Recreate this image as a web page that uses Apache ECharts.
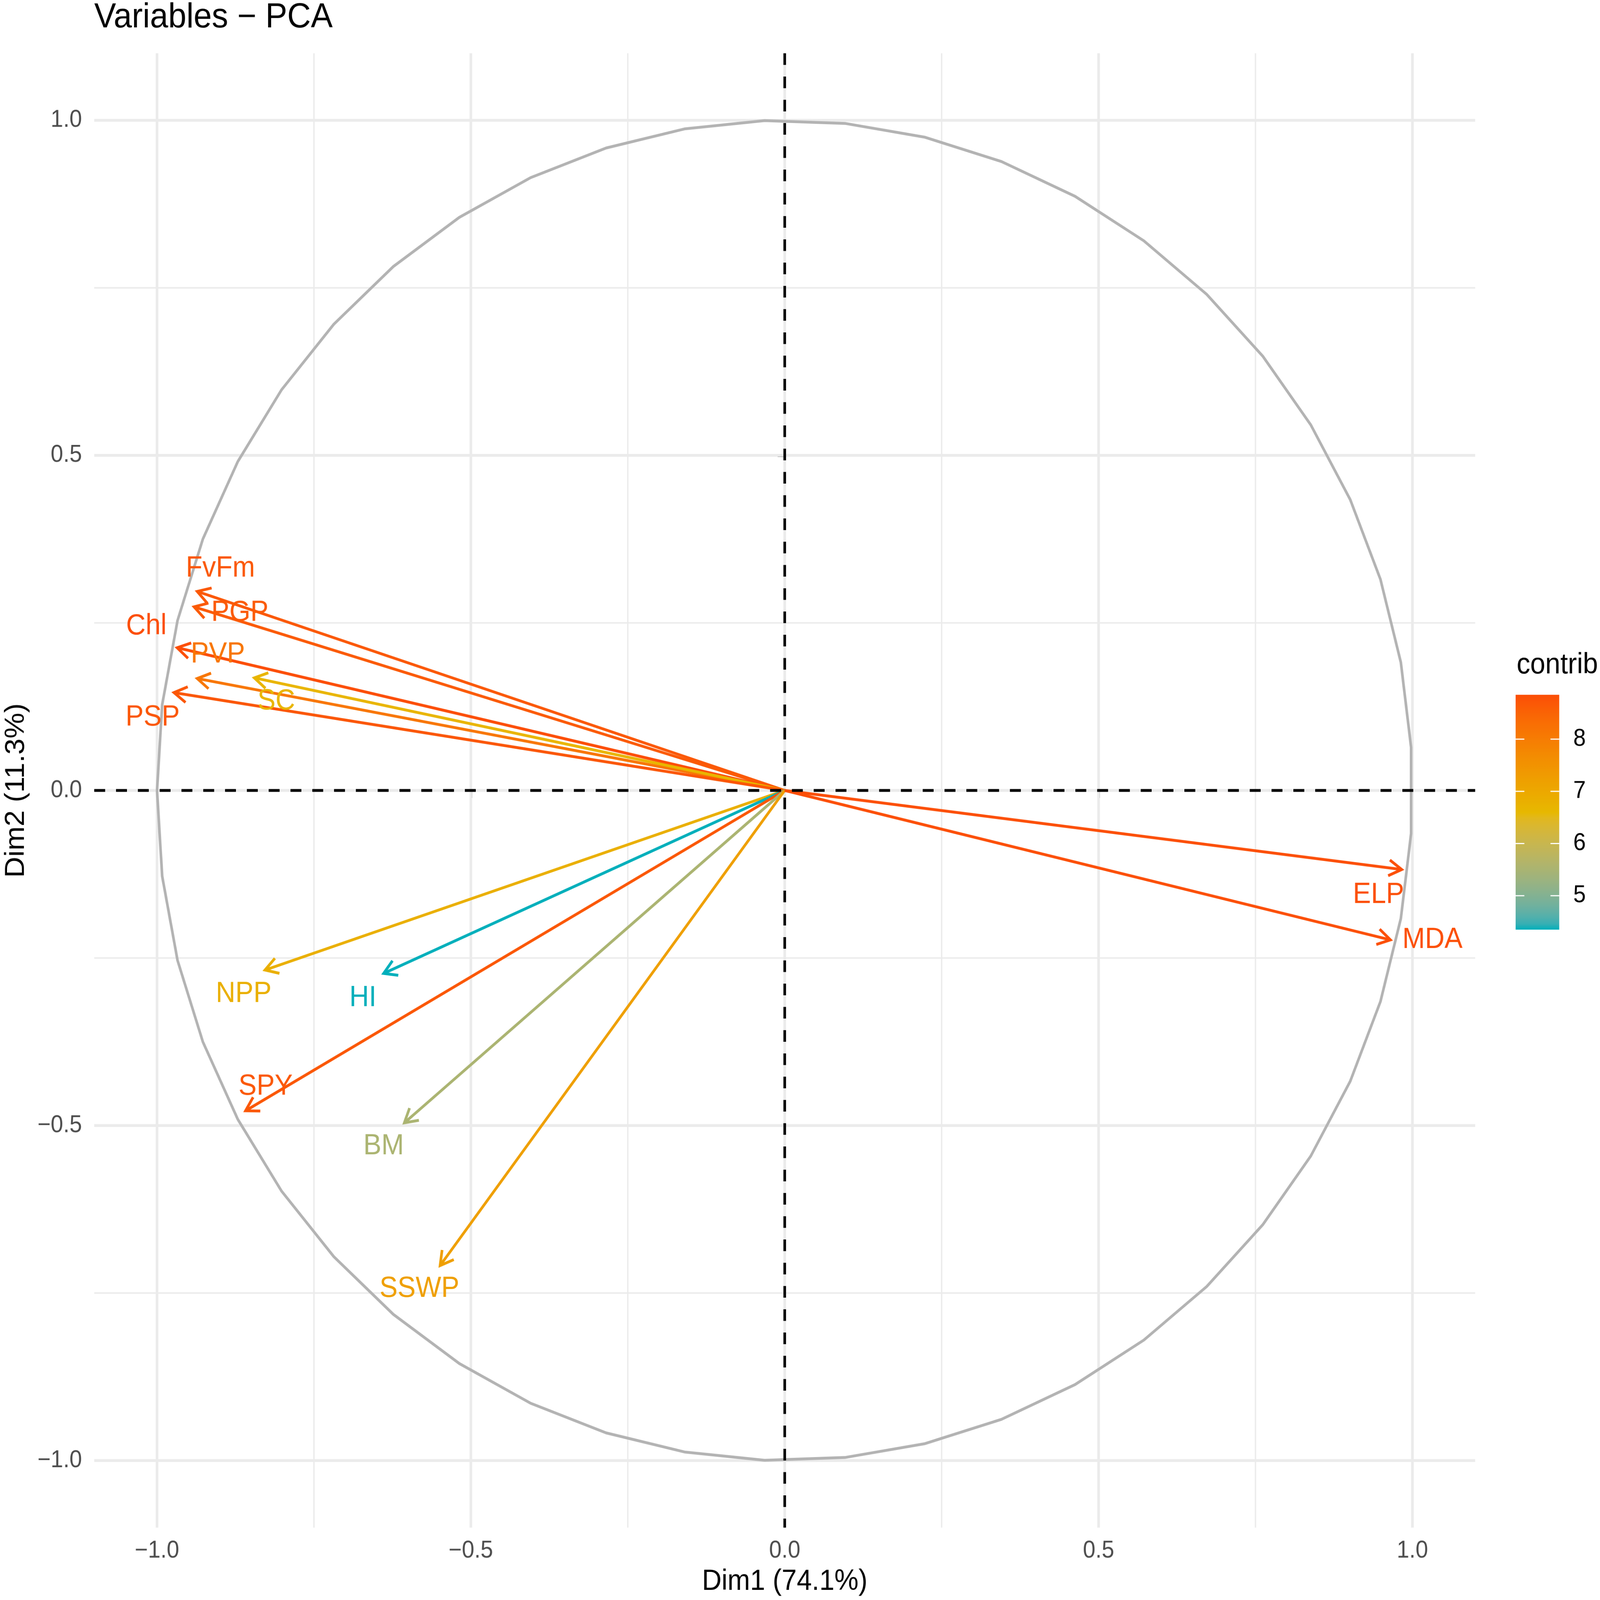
<!DOCTYPE html>
<html><head><meta charset="utf-8">
<script src="https://cdn.jsdelivr.net/npm/echarts@6/dist/echarts.min.js"></script>
<style>html,body{margin:0;padding:0;background:#fff;overflow:hidden}#c{width:4550px;height:4265px;transform-origin:0 0;position:absolute;left:0;top:0}</style>
</head><body><div id="c"></div>
<script>
// ---------- data ----------
const varNames = ['FvFm', 'PGP', 'Chl', 'PVP', 'SC', 'PSP', 'NPP', 'HI', 'SPY', 'BM', 'SSWP', 'ELP', 'MDA'];
const dim1 = [-0.936, -0.941, -0.968, -0.936, -0.845, -0.973, -0.828, -0.639, -0.859, -0.606, -0.549, 0.983, 0.965];
const dim2 = [0.297, 0.274, 0.213, 0.167, 0.168, 0.146, -0.268, -0.273, -0.478, -0.496, -0.709, -0.118, -0.223];
const contrib = [8.69, 8.65, 8.85, 8.14, 6.69, 8.72, 6.82, 4.35, 8.70, 5.52, 7.24, 8.83, 8.83];
const labelX = [-0.899, -0.868, -1.017, -0.903, -0.810, -1.007, -0.862, -0.672, -0.827, -0.639, -0.582, 0.946, 1.032];
const labelY = [0.331, 0.265, 0.245, 0.203, 0.133, 0.109, -0.304, -0.310, -0.442, -0.531, -0.744, -0.156, -0.223];
const majorBreaks = [-1, -0.5, 0, 0.5, 1];
const minorBreaks = [-0.75, -0.25, 0.25, 0.75];
const legendTicks = [5, 6, 7, 8];
const gradientColors = ['#00AFBB', '#E7B800', '#FC4E07'];
const circlePoints = 50;
const titleText = 'Variables \u2212 PCA';
const xName = 'Dim1 (74.1%)';
const yName = 'Dim2 (11.3%)';
const legendName = 'contrib';

// fit the 4550x4265 design into whatever viewport the browser has
const DESIGN_W = 4550, DESIGN_H = 4265;
const box = document.getElementById('c');
box.style.transform = 'scale(' + (window.innerWidth / DESIGN_W) + ',' + (window.innerHeight / DESIGN_H) + ')';

// ---------- colour ramp (CIELAB interpolation like ggplot) ----------
function hexToLab(hex) {
  const v = [1, 3, 5].map(i => parseInt(hex.substr(i, 2), 16) / 255)
    .map(c => c <= 0.04045 ? c / 12.92 : Math.pow((c + 0.055) / 1.055, 2.4));
  const X = (0.4124564 * v[0] + 0.3575761 * v[1] + 0.1804375 * v[2]) / 0.95047;
  const Y = (0.2126729 * v[0] + 0.7151522 * v[1] + 0.0721750 * v[2]);
  const Z = (0.0193339 * v[0] + 0.1191920 * v[1] + 0.9503041 * v[2]) / 1.08883;
  const d = 6 / 29;
  const f = t => t > d * d * d ? Math.cbrt(t) : t / (3 * d * d) + 4 / 29;
  const fx = f(X), fy = f(Y), fz = f(Z);
  return [116 * fy - 16, 500 * (fx - fy), 200 * (fy - fz)];
}
function labToHex(lab) {
  const d = 6 / 29;
  const fy = (lab[0] + 16) / 116, fx = fy + lab[1] / 500, fz = fy - lab[2] / 200;
  const fi = t => t > d ? t * t * t : 3 * d * d * (t - 4 / 29);
  const X = fi(fx) * 0.95047, Y = fi(fy), Z = fi(fz) * 1.08883;
  const lin = [
    3.2404542 * X - 1.5371385 * Y - 0.4985314 * Z,
    -0.9692660 * X + 1.8760108 * Y + 0.0415560 * Z,
    0.0556434 * X - 0.2040259 * Y + 1.0572252 * Z
  ];
  return '#' + lin.map(c => {
    c = c <= 0.0031308 ? 12.92 * c : 1.055 * Math.pow(c, 1 / 2.4) - 0.055;
    c = Math.max(0, Math.min(1, c));
    return Math.round(c * 255).toString(16).padStart(2, '0');
  }).join('');
}
const gradLabs = gradientColors.map(hexToLab);
function rampColor(t) {
  const n = gradLabs.length - 1;
  const seg = Math.min(Math.floor(t * n), n - 1);
  const lt = t * n - seg;
  const a = gradLabs[seg], b = gradLabs[seg + 1];
  return labToHex([0, 1, 2].map(i => a[i] + (b[i] - a[i]) * lt));
}
const rampStops = [];
for (let i = 0; i <= 40; i++) rampStops.push(rampColor(i / 40));

const cMin = Math.min(...contrib), cMax = Math.max(...contrib);
const FONT = '"Liberation Sans", Arial, Helvetica, sans-serif';
const fmt = v => v.toFixed(1).replace('-', '\u2212');

// circle of correlations (unit circle as in factoextra)
const circleData = [];
for (let k = 0; k < circlePoints; k++) {
  const th = -Math.PI + k * 2 * Math.PI / (circlePoints - 1);
  circleData.push([Math.cos(th), Math.sin(th)]);
}

const arrowData = varNames.map((n, i) => [dim1[i], dim2[i], contrib[i], n]);
const labelData = varNames.map((n, i) => [labelX[i], labelY[i], contrib[i], n]);
const gridData = []
  .concat(majorBreaks.map(v => [v, 0, 1]))
  .concat(majorBreaks.map(v => [v, 1, 1]))
  .concat(minorBreaks.map(v => [v, 0, 0]))
  .concat(minorBreaks.map(v => [v, 1, 0]));
const zeroData = [[0, 0], [0, 1]];

function refLine(params, api, v, orient) {
  const cs = params.coordSys;
  if (orient === 0) {
    const x = api.coord([v, 0])[0];
    return { x1: x, y1: cs.y, x2: x, y2: cs.y + cs.height };
  }
  const y = api.coord([0, v])[1];
  return { x1: cs.x, y1: y, x2: cs.x + cs.width, y2: y };
}

const chart = echarts.init(box, null, { renderer: 'canvas' });
const option = {
  backgroundColor: '#ffffff',
  animation: false,
  textStyle: { fontFamily: FONT },
  title: [
    { text: titleText, left: 268, top: 1, padding: 0,
      textStyle: { fontSize: 93, fontWeight: 'normal', color: '#000', fontFamily: FONT } },
    { text: legendName, left: 4313, top: 1735, padding: 0,
      textStyle: { fontSize: 77, fontWeight: 'normal', color: '#000', fontFamily: FONT } }
  ],
  grid: [
    { left: 265, top: 142, width: 3930, height: 3930, containLabel: false },
    { left: 4310, top: 1852, width: 124, height: 626, containLabel: false }
  ],
  xAxis: [
    { type: 'value', gridIndex: 0, min: -1.1, max: 1.1,
      name: xName, nameLocation: 'middle', nameGap: 106,
      nameTextStyle: { fontSize: 77, color: '#000', fontFamily: FONT },
      axisLine: { show: false },
      axisTick: { show: true, customValues: majorBreaks, length: 20, lineStyle: { color: '#333333', width: 7 } },
      axisLabel: { customValues: majorBreaks, formatter: fmt, fontSize: 64, color: '#4D4D4D', margin: 30, fontFamily: FONT },
      splitLine: { show: false } },
    { type: 'value', gridIndex: 1, min: 0, max: 1, show: false }
  ],
  yAxis: [
    { type: 'value', gridIndex: 0, min: -1.1, max: 1.1,
      name: yName, nameLocation: 'middle', nameGap: 183,
      nameTextStyle: { fontSize: 77, color: '#000', fontFamily: FONT },
      axisLine: { show: false },
      axisTick: { show: true, customValues: majorBreaks, length: 20, lineStyle: { color: '#333333', width: 7 } },
      axisLabel: { customValues: majorBreaks, formatter: fmt, fontSize: 64, color: '#4D4D4D', margin: 35, fontFamily: FONT },
      splitLine: { show: false } },
    { type: 'value', gridIndex: 1, min: cMin, max: cMax, position: 'right',
      axisLine: { show: false }, axisTick: { show: false }, splitLine: { show: false },
      axisLabel: { customValues: legendTicks, fontSize: 64, color: '#000', margin: 40, fontFamily: FONT } }
  ],
  visualMap: {
    type: 'continuous', show: false, min: cMin, max: cMax, dimension: 2,
    seriesIndex: [2, 3], inRange: { color: rampStops }
  },
  series: [
    { // panel grid lines
      type: 'custom', xAxisIndex: 0, yAxisIndex: 0, z: 1, silent: true,
      data: gridData,
      renderItem: (params, api) => {
        const s = refLine(params, api, api.value(0), api.value(1));
        return { type: 'line', shape: s,
          style: { stroke: '#EBEBEB', lineWidth: api.value(2) ? 7.5 : 3.8 } };
      }
    },
    { // correlation circle
      type: 'line', xAxisIndex: 0, yAxisIndex: 0, z: 2, silent: true,
      data: circleData, showSymbol: false, symbol: 'none',
      lineStyle: { color: '#B3B3B3', width: 7.5 }
    },
    { // arrows
      type: 'custom', xAxisIndex: 0, yAxisIndex: 0, z: 3, silent: true,
      data: arrowData,
      renderItem: (params, api) => {
        const p0 = api.coord([0, 0]);
        const p1 = api.coord([api.value(0), api.value(1)]);
        const col = api.visual('color');
        const dx = p0[0] - p1[0], dy = p0[1] - p1[1];
        const len = Math.sqrt(dx * dx + dy * dy);
        const ux = dx / len, uy = dy / len;
        const L = 42, a = Math.PI / 6;
        const b1 = [p1[0] + L * (ux * Math.cos(a) - uy * Math.sin(a)), p1[1] + L * (ux * Math.sin(a) + uy * Math.cos(a))];
        const b2 = [p1[0] + L * (ux * Math.cos(-a) - uy * Math.sin(-a)), p1[1] + L * (ux * Math.sin(-a) + uy * Math.cos(-a))];
        return { type: 'group', children: [
          { type: 'line', shape: { x1: p0[0], y1: p0[1], x2: p1[0], y2: p1[1] },
            style: { stroke: col, lineWidth: 7.5, lineCap: 'butt' } },
          { type: 'polyline', shape: { points: [b1, p1, b2] },
            style: { stroke: col, fill: null, lineWidth: 7.5, lineCap: 'butt', lineJoin: 'miter' } }
        ] };
      }
    },
    { // variable labels
      type: 'custom', xAxisIndex: 0, yAxisIndex: 0, z: 4, silent: true,
      data: labelData,
      renderItem: (params, api) => {
        const p = api.coord([api.value(0), api.value(1)]);
        return { type: 'text', x: p[0], y: p[1],
          style: { text: varNames[params.dataIndex], fill: api.visual('color'),
            fontSize: 77, fontFamily: FONT, align: 'center', verticalAlign: 'middle' } };
      }
    },
    { // dashed zero lines
      type: 'custom', xAxisIndex: 0, yAxisIndex: 0, z: 5, silent: true,
      data: zeroData,
      renderItem: (params, api) => {
        const s = refLine(params, api, api.value(0), api.value(1));
        return { type: 'line', shape: s,
          style: { stroke: '#000000', lineWidth: 7.5, lineDash: [31, 31] } };
      }
    },
    { // colour bar legend
      type: 'custom', xAxisIndex: 1, yAxisIndex: 1, z: 5, silent: true,
      data: [[0, cMin]],
      renderItem: (params, api) => {
        const tl = api.coord([0, cMax]);
        const br = api.coord([1, cMin]);
        const stops = rampStops.map((c, i) => ({ offset: 1 - i / (rampStops.length - 1), color: c })).reverse();
        const children = [{ type: 'rect',
          shape: { x: tl[0], y: tl[1], width: br[0] - tl[0], height: br[1] - tl[1] },
          style: { fill: new echarts.graphic.LinearGradient(0, 0, 0, 1, stops) } }];
        const w = br[0] - tl[0];
        legendTicks.forEach(t => {
          const y = api.coord([0, t])[1];
          children.push({ type: 'line', shape: { x1: tl[0], y1: y, x2: tl[0] + w / 5, y2: y },
            style: { stroke: '#ffffff', lineWidth: 3 } });
          children.push({ type: 'line', shape: { x1: br[0] - w / 5, y1: y, x2: br[0], y2: y },
            style: { stroke: '#ffffff', lineWidth: 3 } });
        });
        return { type: 'group', children };
      }
    }
  ]
};
chart.setOption(option);
</script></body></html>
